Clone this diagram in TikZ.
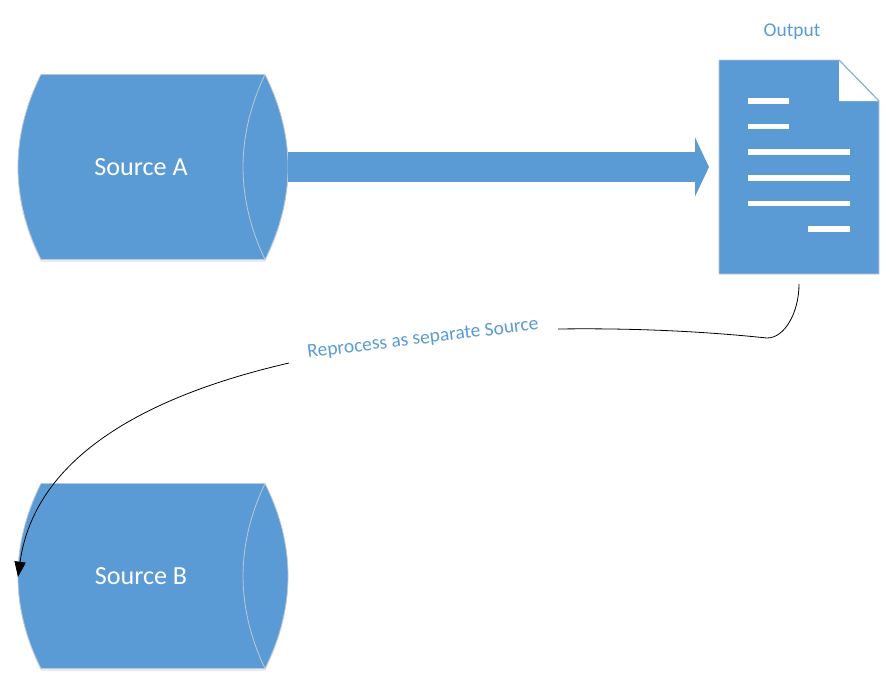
\documentclass[tikz,border=0pt]{standalone}
\usepackage{fontspec}
\setmainfont{Carlito}
\usetikzlibrary{arrows.meta,calc}
\definecolor{shapeblue}{HTML}{5B9BD5}
\definecolor{softedge}{HTML}{BCC8D4}
\definecolor{foldedge}{HTML}{8FB4D9}
\definecolor{shadowtone}{HTML}{E6ECF2}
\tikzset{
  x=0.75pt,y=-0.75pt,
  blueshape/.style={fill=shapeblue,draw=softedge,line width=0.6pt,line join=round},
  whitebar/.style={fill=white,draw=none},
  whitelabel/.style={text=white,font=\fontsize{19.6pt}{22pt}\selectfont,inner sep=0pt},
  bluelabel/.style={text=shapeblue,font=\fontsize{14.6pt}{17pt}\selectfont,inner sep=0pt},
  phantombox/.style={draw=none,fill=none,inner sep=0pt,outer sep=0pt},
  curveline/.style={black,line width=0.6pt},
  srccyl/.pic={
    \fill[shadowtone] (-112,-90) .. controls (-142.7,-30) and (-142.7,34) .. (-112,95) -- (112,95)
       .. controls (142.7,34) and (142.7,-30) .. (112,-90) -- cycle;
    \path[blueshape] (-112,-92.5) .. controls (-142.7,-31) and (-142.7,31) .. (-112,92.5)
       -- (112,92.5) .. controls (142.7,31) and (142.7,-31) .. (112,-92.5) -- cycle;
    \draw[softedge,line width=0.6pt] (112,-92.5) .. controls (82.7,-31) and (82.7,31) .. (112,92.5);
  }
}
\begin{document}
\begin{tikzpicture}
\useasboundingbox (0,0) rectangle (891,679);
% sources
\pic at (153,167) {srccyl};
\pic at (153,576) {srccyl};
\node[phantombox,minimum width=202.5pt,minimum height=138.75pt] (srcA) at (153,167) {};
\node[phantombox,minimum width=202.5pt,minimum height=138.75pt] (srcB) at (153,576) {};
\node[whitelabel] (srcAtext) at (141,167.5) {Source A};
\node[whitelabel] (srcBtext) at (141,576.5) {Source B};
% document
\node[phantombox,minimum width=120pt,minimum height=160.5pt] (doc) at (799,167) {};
\path[blueshape] (719,60) -- (839,60) -- (879,101) -- (879,274) -- (719,274) -- cycle;
\fill[white] (839,60.5) -- (878.5,101) -- (839,101) -- cycle;
\draw[foldedge,line width=0.9pt] (839,60) -- (879,101);
\fill[whitebar] (748,98) rectangle (789,103.5);
\fill[whitebar] (748,123.5) rectangle (789,129);
\fill[whitebar] (748,149) rectangle (850,154.5);
\fill[whitebar] (748,175) rectangle (850,180.5);
\fill[whitebar] (748,200.5) rectangle (850,206);
\fill[whitebar] (808,226) rectangle (850,231.5);
\node[bluelabel] (outlabel) at (792,31.5) {Output};
% block arrow
\draw[shapeblue,line width=22pt,shorten >=7.5pt,
  -{Triangle[length=10.5pt,width=44pt]}] (srcA.east) -- (doc.west);
% curved connector
\coordinate (docfoot) at (799,284);
\coordinate (gapE) at (558,329);
\coordinate (gapW) at (289,363);
\coordinate (bend) at (767,338);
\coordinate (entry) at (18,577);
\node[bluelabel,rotate=7] (relabel) at (423,339) {Reprocess as separate Source};
\draw[curveline] (docfoot) .. controls (799,312) and (785,338) .. (bend)
   .. controls (700,331) and (630,328) .. (gapE);
\draw[curveline,-{Triangle[length=11.5pt,width=8.5pt]}] (gapW) .. controls (150,395) and (35,455) .. (entry);
\end{tikzpicture}
\end{document}
